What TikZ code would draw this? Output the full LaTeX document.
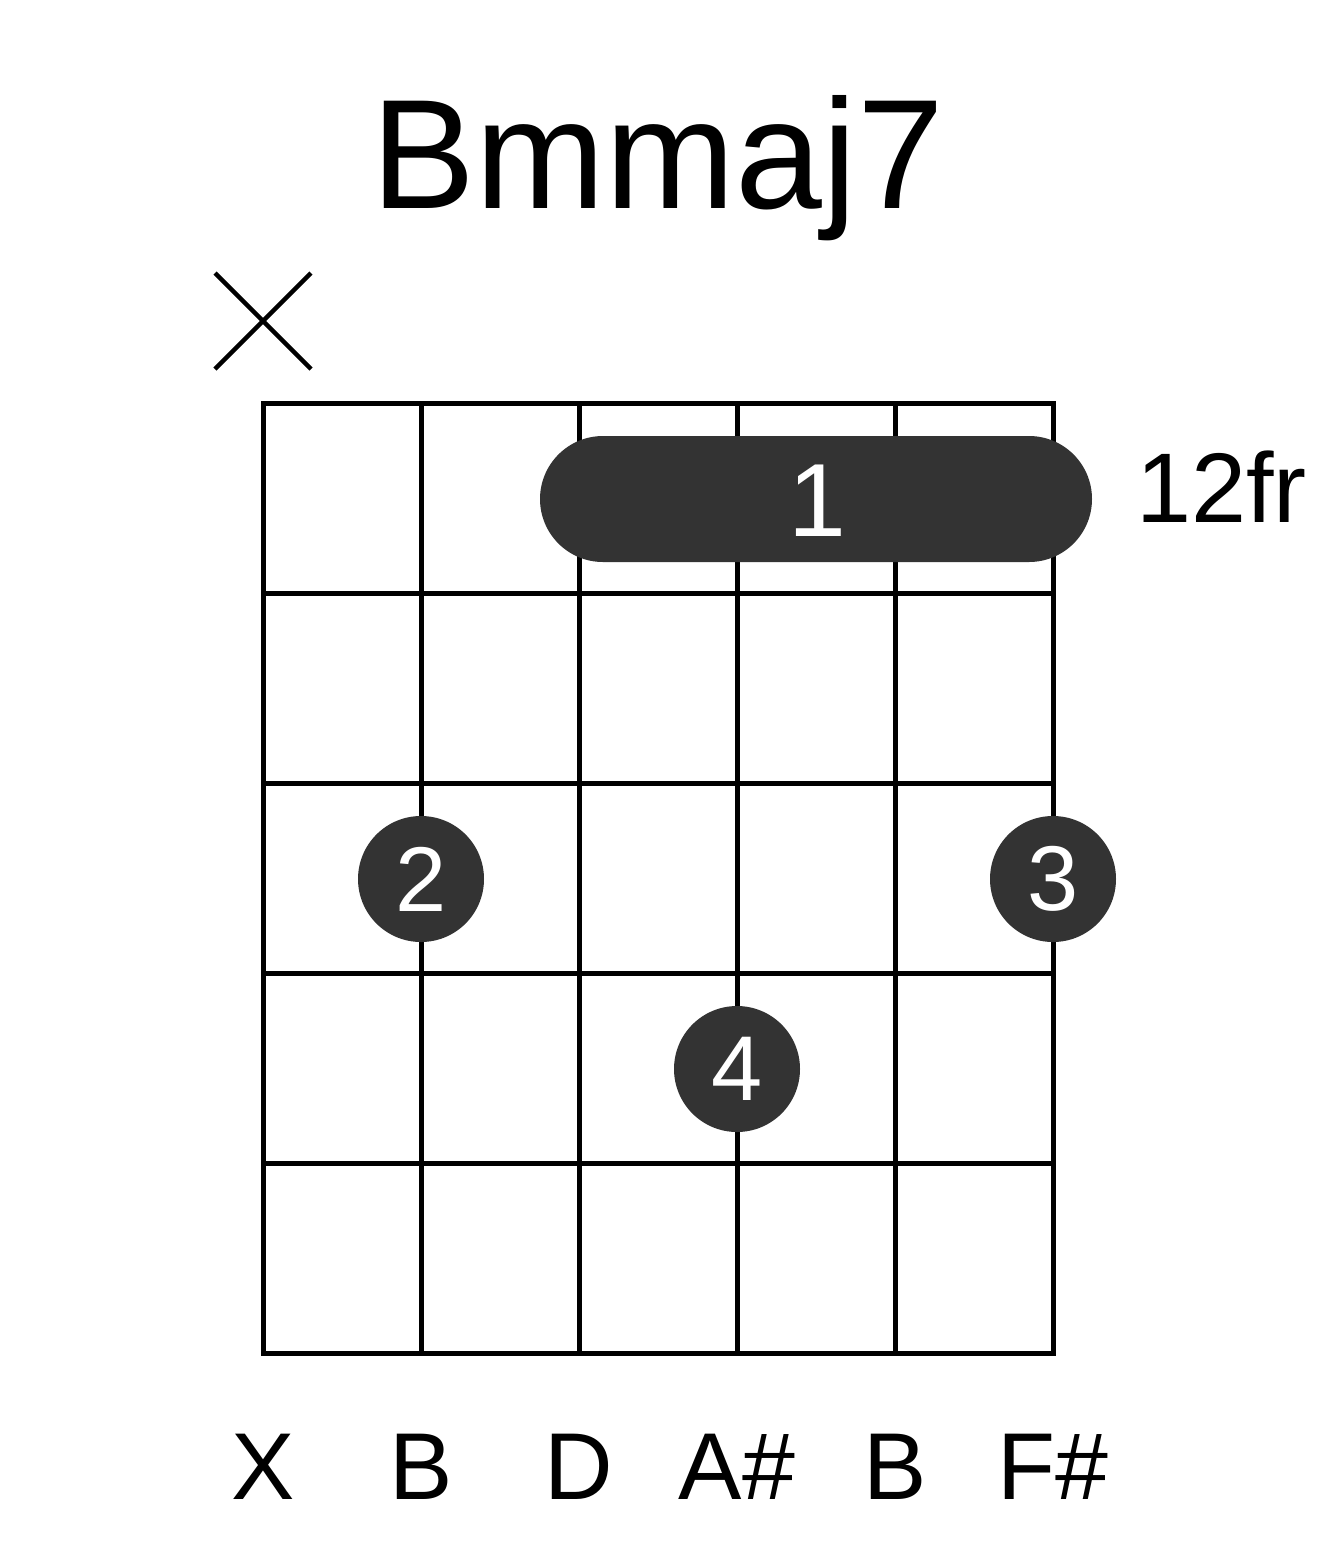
\documentclass[tikz,border=0pt]{standalone}
\usepackage{fontspec}
\setmainfont{Liberation Sans}
\definecolor{dotgray}{HTML}{333333}
\tikzset{
  gridline/.style={line width=5pt, black},
  fingerdot/.style={circle, fill=dotgray, minimum size=126pt, inner sep=0pt, text=white, font=\fontsize{92}{92}\selectfont},
  notelabel/.style={anchor=base, inner sep=0pt, font=\fontsize{95}{95}\selectfont}
}
\begin{document}
\begin{tikzpicture}[x=1pt,y=-1pt]
    \useasboundingbox (0,0) rectangle (1317,1551);

    % Chord name
    \node[anchor=base, inner sep=0pt, font=\fontsize{156}{156}\selectfont] (title) at (658,208) {Bmmaj7};

    % Draw strings and frets
    \foreach \s in {0,...,5} {
        \draw[gridline] (263+\s*158,403) -- (263+\s*158,1353);
    }
    \foreach \f in {0,...,5} {
        \draw[gridline, line cap=rect] (263,403+\f*190) -- (1053,403+\f*190);
    }

    % Muted string
    \draw[line width=4.5pt] (215,273) -- (311,369);
    \draw[line width=4.5pt] (311,273) -- (215,369);

    % Barre with finger 1
    \fill[dotgray, rounded corners=63pt] (540,436) rectangle (1092,562);
    \node[anchor=base, inner sep=0pt, text=white, font=\fontsize{104}{104}\selectfont] (barre) at (817,536) {1};

    % Fret position
    \node[anchor=base west, inner sep=0pt, font=\fontsize{99}{99}\selectfont] (fret) at (1136,522) {12fr};

    % Die Finger setzen
    \node[fingerdot] (two) at (421,879) {2};
    \node[fingerdot] (three) at (1053,879) {3};
    \node[fingerdot] (four) at (737,1069) {4};

    % Note names below the strings
    \foreach \n [count=\i from 0] in {X, B, D, A\#, B, F\#} {
        \node[notelabel] (note\i) at (263+\i*158,1499) {\n};
    }
\end{tikzpicture}
\end{document}
